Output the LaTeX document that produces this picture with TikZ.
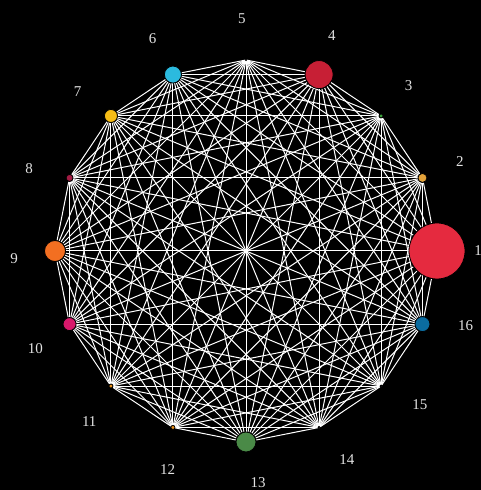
\documentclass[tikz,border=0pt]{standalone}
\usepackage{fontspec}
\setmainfont{Liberation Serif}
\usetikzlibrary{backgrounds}
\definecolor{Ink}{HTML}{000000}
\definecolor{Wire}{HTML}{FFFFFF}
\definecolor{Tag}{HTML}{E2E2E2}
\definecolor{cA}{HTML}{E52A3F}
\definecolor{cB}{HTML}{E3A23A}
\definecolor{cC}{HTML}{3AA03A}
\definecolor{cD}{HTML}{C71F35}
\definecolor{cE}{HTML}{F2F2F2}
\definecolor{cF}{HTML}{2BBADF}
\definecolor{cG}{HTML}{F7BD16}
\definecolor{cH}{HTML}{A21C44}
\definecolor{cI}{HTML}{F36F21}
\definecolor{cJ}{HTML}{D8186B}
\definecolor{cK}{HTML}{E8901A}
\definecolor{cM}{HTML}{4A8A47}
\definecolor{cP}{HTML}{0B6CA0}
\tikzset{
    vert/.style={circle, draw=Ink, line width=0.8pt, inner sep=0pt},
    wire/.style={draw=Wire, line width=1pt},
    tag/.style={text=Tag, font=\fontsize{15}{18}\selectfont, inner sep=0pt},
}

\begin{document}
\begin{tikzpicture}[x=1pt, y=1pt]
        \useasboundingbox (0,0) rectangle (481,490);

        \begin{scope}[shift={(246,239)}]
            % Vertices (index / colour / diameter)
            \foreach \k/\col/\d in {1/cA/56, 2/cB/9, 3/cC/4, 4/cD/28, 5/cE/1, 6/cF/17, 7/cG/13, 8/cH/7,
                                    9/cI/21, 10/cJ/13, 11/cK/4, 12/cK/4, 13/cM/20, 14/cE/2, 15/cE/2, 16/cP/15}
                \node[vert, fill=\col, minimum size=\d pt] (n\k) at ({(\k-1)*22.5}:191) {};

            % Labels
            \foreach \k in {1,...,16}
                \node[tag] (l\k) at ({(\k-1)*22.75}:232) {\k};
        \end{scope}

        % --- Canvas and complete graph, behind the vertices ---
        \begin{pgfonlayer}{background}
            \fill[Ink] (0,0) rectangle (481,490);
            \foreach \i in {1,...,15} {
                \pgfmathtruncatemacro\nxt{\i+1}
                \foreach \j in {\nxt,...,16}
                    \draw[wire] (n\i) -- (n\j);
            }
        \end{pgfonlayer}
    \end{tikzpicture}
\end{document}
